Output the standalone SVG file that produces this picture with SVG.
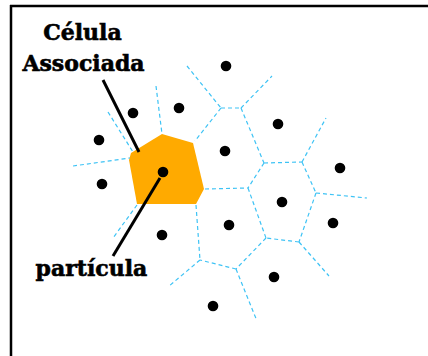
<svg xmlns="http://www.w3.org/2000/svg" width="428" height="356" viewBox="0 0 428 356">
<style>
.edge{stroke:#3ec3f5;stroke-width:1.2;stroke-dasharray:4 3;fill:none;}
.dot{fill:#000;}
.lead{stroke:#000;stroke-width:3;fill:none;}
.lbl{font-family:"DejaVu Serif",serif;font-weight:bold;font-size:22px;fill:#000;stroke:#000;stroke-width:0.6;text-anchor:middle;}
</style>
<rect x="0" y="0" width="428" height="356" fill="#fff"/>
<g id="frame" stroke="#000" stroke-width="2.5" fill="none">
<line x1="10" y1="6" x2="428" y2="6"/>
<line x1="11" y1="5" x2="11" y2="356"/>
</g>
<g id="cell">
<path d="M131,153 L162,134 L193,143 L204,189 L196,204 L137,204 L129,160 Z" fill="#FFAA00"/>
</g>
<g id="connectors">
<path class="edge" d="M73,166 L130,158"/>
<path class="edge" d="M108,112 L133,152"/>
<path class="edge" d="M156,86 L162,134"/>
<path class="edge" d="M187,66 L221,108"/>
<path class="edge" d="M221,108 L241,108"/>
<path class="edge" d="M241,108 L272,76"/>
<path class="edge" d="M221,108 L195,141"/>
<path class="edge" d="M241,108 L264,163"/>
<path class="edge" d="M264,163 L302,162"/>
<path class="edge" d="M302,162 L326,118"/>
<path class="edge" d="M302,162 L316,193"/>
<path class="edge" d="M316,193 L367,198"/>
<path class="edge" d="M316,193 L299,242"/>
<path class="edge" d="M299,242 L329,276"/>
<path class="edge" d="M299,242 L266,238"/>
<path class="edge" d="M264,163 L248,188"/>
<path class="edge" d="M205,189 L248,188"/>
<path class="edge" d="M248,188 L266,238"/>
<path class="edge" d="M266,238 L236,269"/>
<path class="edge" d="M236,269 L200,260"/>
<path class="edge" d="M236,269 L257,321"/>
<path class="edge" d="M196,205 L200,260"/>
<path class="edge" d="M200,260 L168,287"/>
<path class="edge" d="M137,205 L113,238"/>
<path class="lead" d="M103,80 L139,152"/>
<path class="lead" d="M113,256 L160,178"/>
</g>
<g id="particles">
<circle class="dot" cx="226" cy="66" r="5.3"/>
<circle class="dot" cx="133" cy="113" r="5.3"/>
<circle class="dot" cx="179" cy="108" r="5.3"/>
<circle class="dot" cx="99" cy="140" r="5.3"/>
<circle class="dot" cx="278" cy="124" r="5.3"/>
<circle class="dot" cx="225" cy="151" r="5.3"/>
<circle class="dot" cx="102" cy="184" r="5.3"/>
<circle class="dot" cx="163" cy="172" r="5.3"/>
<circle class="dot" cx="340" cy="168" r="5.3"/>
<circle class="dot" cx="282" cy="202" r="5.3"/>
<circle class="dot" cx="229" cy="225" r="5.3"/>
<circle class="dot" cx="333" cy="223" r="5.3"/>
<circle class="dot" cx="162" cy="235" r="5.3"/>
<circle class="dot" cx="274" cy="277" r="5.3"/>
<circle class="dot" cx="213" cy="306" r="5.3"/>
</g>
<g id="labels">
<text class="lbl" x="82.5" y="40">Célula</text>
<text class="lbl" x="83.5" y="71">Associada</text>
<text class="lbl" x="91.5" y="276">partícula</text>
</g>
</svg>
